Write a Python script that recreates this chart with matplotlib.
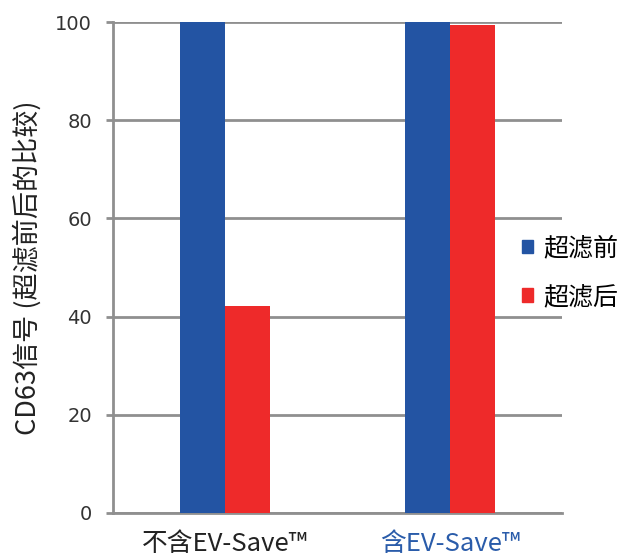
import matplotlib
matplotlib.use("Agg")
import matplotlib.pyplot as plt
import numpy as np
from matplotlib.patches import Patch

plt.rcParams['font.family'] = ['Noto Sans CJK SC', 'DejaVu Sans']

categories = ["不含EV-Save™", "含EV-Save™"]
series_names = ["超滤前", "超滤后"]
before = [100, 100]
after = [42.2, 99.4]
yticks = [0, 20, 40, 60, 80, 100]

blue = "#2354a3"
red = "#ee2a2a"
grid_c = "#8f8f8f"

fig = plt.figure(figsize=(6.24, 5.59), dpi=100)
ax = fig.add_axes([0.181, 0.0823, 0.720, 0.8783])

x = np.arange(len(categories))
w = 0.2
ax.bar(x - w/2, before, width=w, color=blue, zorder=3)
ax.bar(x + w/2, after, width=w, color=red, zorder=3)

ax.set_xlim(-0.5, 1.5)
ax.set_ylim(0, 100)
ax.set_yticks(yticks)
ax.set_yticklabels([str(v) for v in yticks], family='DejaVu Sans', fontsize=14, color='#333333')
ax.yaxis.grid(True, color=grid_c, linewidth=2, zorder=0)
ax.tick_params(axis='y', length=5, width=2, color=grid_c, pad=10)
ax.tick_params(axis='x', length=0, pad=13)
ax.set_xticks(x)
ax.set_xticklabels(categories, fontsize=18.5)
ax.get_xticklabels()[0].set_color('#222222')
ax.get_xticklabels()[1].set_color('#2a5caa')

for s in ['top', 'right']:
    ax.spines[s].set_visible(False)
ax.spines['left'].set_color(grid_c)
ax.spines['left'].set_linewidth(2)
ax.spines['bottom'].set_color(grid_c)
ax.spines['bottom'].set_linewidth(2)

ax.set_ylabel("CD63信号 (超滤前后的比较)", fontsize=19.5, color='#222222', labelpad=10)

handles = [Patch(color=blue), Patch(color=red)]
leg = fig.legend(handles, series_names, loc='center left', bbox_to_anchor=(0.80, 0.512),
                 frameon=False, handlelength=0.45, handleheight=0.45,
                 handletextpad=0.4, labelspacing=0.9, prop={'size': 18})

fig.savefig("out.png", dpi=100)
